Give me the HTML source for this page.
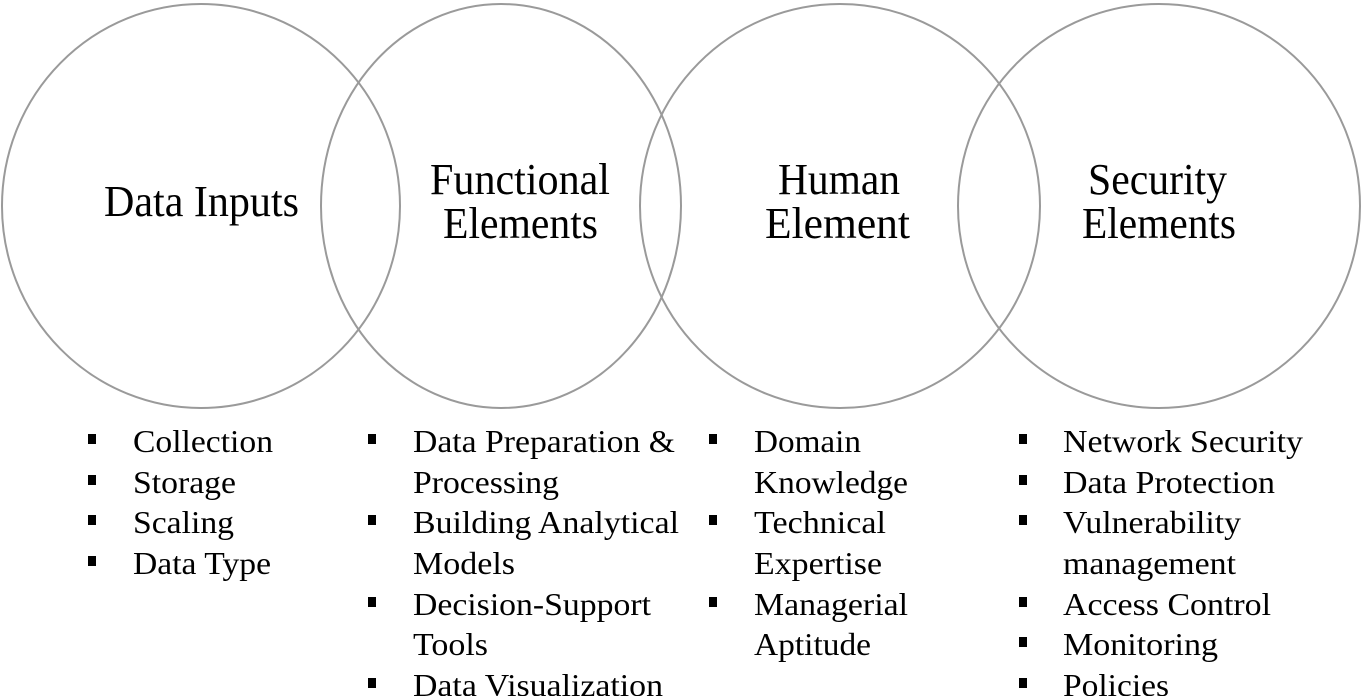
<!DOCTYPE html>
<html><head><meta charset="utf-8"><style>
html,body{margin:0;padding:0;background:#fff;}
svg{display:block;}
text{font-family:"Liberation Serif",serif;fill:#000;}
.h{font-size:44px;}
.l{font-size:32px;}
</style></head><body>
<svg width="1363" height="696" viewBox="0 0 1363 696" xmlns="http://www.w3.org/2000/svg">
<g fill="none" stroke="#9a9a9a" stroke-width="2">
<ellipse cx="201" cy="206" rx="199" ry="202"/>
<ellipse cx="501" cy="206" rx="180" ry="202"/>
<ellipse cx="840" cy="206" rx="200" ry="202"/>
<ellipse cx="1159" cy="206" rx="201" ry="202"/>
</g>
<text class="h" x="104" y="216" textLength="195" lengthAdjust="spacingAndGlyphs">Data Inputs</text>
<text class="h" x="430" y="194" textLength="180" lengthAdjust="spacingAndGlyphs">Functional</text>
<text class="h" x="443" y="238" textLength="155" lengthAdjust="spacingAndGlyphs">Elements</text>
<text class="h" x="778" y="194" textLength="122" lengthAdjust="spacingAndGlyphs">Human</text>
<text class="h" x="765" y="238" textLength="145" lengthAdjust="spacingAndGlyphs">Element</text>
<text class="h" x="1088" y="194" textLength="139" lengthAdjust="spacingAndGlyphs">Security</text>
<text class="h" x="1082" y="238" textLength="154" lengthAdjust="spacingAndGlyphs">Elements</text>
<g fill="#000">
<rect x="88" y="434" width="8" height="10"/><rect x="88" y="475" width="8" height="10"/><rect x="88" y="515" width="8" height="10"/><rect x="88" y="556" width="8" height="10"/>
<rect x="368" y="434" width="8" height="10"/><rect x="368" y="515" width="8" height="10"/><rect x="368" y="597" width="8" height="10"/><rect x="368" y="678" width="8" height="10"/>
<rect x="709" y="434" width="8" height="10"/><rect x="709" y="515" width="8" height="10"/><rect x="709" y="597" width="8" height="10"/>
<rect x="1019" y="434" width="8" height="10"/><rect x="1019" y="475" width="8" height="10"/><rect x="1019" y="515" width="8" height="10"/><rect x="1019" y="597" width="8" height="10"/><rect x="1019" y="637" width="8" height="10"/><rect x="1019" y="678" width="8" height="10"/>
</g>
<text class="l" x="133" y="452" textLength="140" lengthAdjust="spacingAndGlyphs">Collection</text>
<text class="l" x="133" y="493" textLength="103" lengthAdjust="spacingAndGlyphs">Storage</text>
<text class="l" x="133" y="533" textLength="101" lengthAdjust="spacingAndGlyphs">Scaling</text>
<text class="l" x="133" y="574" textLength="138" lengthAdjust="spacingAndGlyphs">Data Type</text>

<text class="l" x="413" y="452" textLength="262" lengthAdjust="spacingAndGlyphs">Data Preparation &amp;</text>
<text class="l" x="413" y="493" textLength="146" lengthAdjust="spacingAndGlyphs">Processing</text>
<text class="l" x="413" y="533" textLength="266" lengthAdjust="spacingAndGlyphs">Building Analytical</text>
<text class="l" x="413" y="574" textLength="102" lengthAdjust="spacingAndGlyphs">Models</text>
<text class="l" x="413" y="615" textLength="238" lengthAdjust="spacingAndGlyphs">Decision-Support</text>
<text class="l" x="413" y="655" textLength="75" lengthAdjust="spacingAndGlyphs">Tools</text>
<text class="l" x="413" y="696" textLength="250" lengthAdjust="spacingAndGlyphs">Data Visualization</text>

<text class="l" x="754" y="452" textLength="107" lengthAdjust="spacingAndGlyphs">Domain</text>
<text class="l" x="754" y="493" textLength="154" lengthAdjust="spacingAndGlyphs">Knowledge</text>
<text class="l" x="754" y="533" textLength="132" lengthAdjust="spacingAndGlyphs">Technical</text>
<text class="l" x="754" y="574" textLength="128" lengthAdjust="spacingAndGlyphs">Expertise</text>
<text class="l" x="754" y="615" textLength="154" lengthAdjust="spacingAndGlyphs">Managerial</text>
<text class="l" x="754" y="655" textLength="117" lengthAdjust="spacingAndGlyphs">Aptitude</text>

<text class="l" x="1063" y="452" textLength="240" lengthAdjust="spacingAndGlyphs">Network Security</text>
<text class="l" x="1063" y="493" textLength="212" lengthAdjust="spacingAndGlyphs">Data Protection</text>
<text class="l" x="1063" y="533" textLength="178" lengthAdjust="spacingAndGlyphs">Vulnerability</text>
<text class="l" x="1063" y="574" textLength="173" lengthAdjust="spacingAndGlyphs">management</text>
<text class="l" x="1063" y="615" textLength="208" lengthAdjust="spacingAndGlyphs">Access Control</text>
<text class="l" x="1063" y="655" textLength="155" lengthAdjust="spacingAndGlyphs">Monitoring</text>
<text class="l" x="1063" y="696" textLength="106" lengthAdjust="spacingAndGlyphs">Policies</text>
</svg>
</body></html>
